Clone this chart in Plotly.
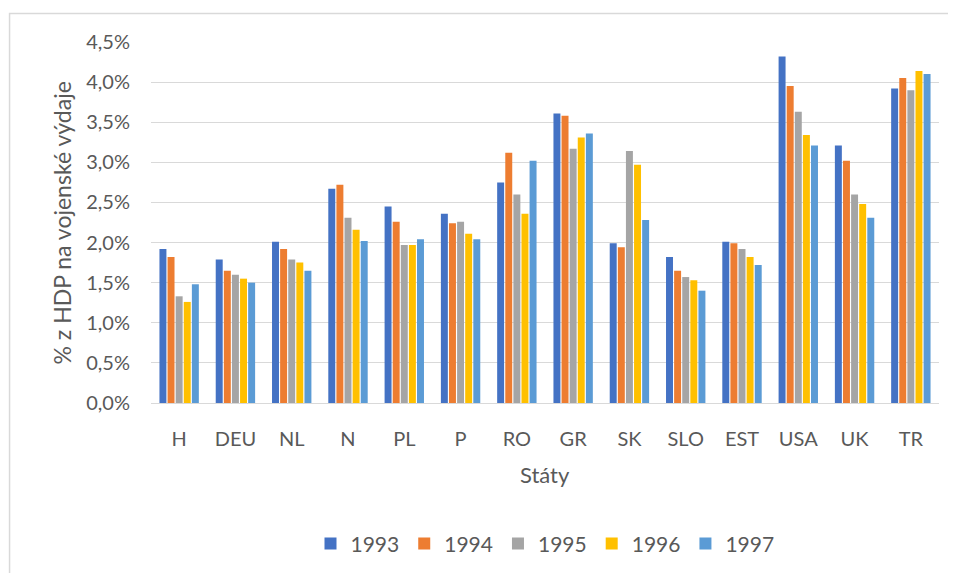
import plotly.graph_objects as go

# kategorie a hodnoty (% HDP na vojenské výdaje)
staty = ['H', 'DEU', 'NL', 'N', 'PL', 'P', 'RO', 'GR', 'SK', 'SLO', 'EST', 'USA', 'UK', 'TR']
roky = ['1993', '1994', '1995', '1996', '1997']

v1993 = [1.92, 1.79, 2.01, 2.67, 2.45, 2.36, 2.75, 3.61, 1.99, 1.82, 2.01, 4.32, 3.21, 3.92]
v1994 = [1.82, 1.65, 1.92, 2.72, 2.26, 2.24, 3.12, 3.58, 1.94, 1.65, 1.99, 3.95, 3.02, 4.05]
v1995 = [1.33, 1.60, 1.79, 2.31, 1.97, 2.26, 2.60, 3.17, 3.14, 1.57, 1.92, 3.63, 2.60, 3.90]
v1996 = [1.26, 1.55, 1.75, 2.16, 1.97, 2.11, 2.36, 3.31, 2.97, 1.53, 1.82, 3.34, 2.48, 4.14]
v1997 = [1.48, 1.50, 1.65, 2.02, 2.04, 2.04, 3.02, 3.36, 2.28, 1.40, 1.72, 3.21, 2.31, 4.10]

serie = [v1993, v1994, v1995, v1996, v1997]
barvy = ['#4472C4', '#ED7D31', '#A5A5A5', '#FFC000', '#5B9BD5']

font = 'Lato, Open Sans, sans-serif'
seda = '#595959'

fig = go.Figure()
for rok, hodnoty, barva in zip(roky, serie, barvy):
    fig.add_trace(go.Bar(x=staty, y=hodnoty, name=rok, marker_color=barva, marker_line_width=0))

# ramecek okolo grafu (jen horni a leva hrana jsou videt)
fig.add_shape(type='rect', xref='paper', yref='paper',
              x0=-0.1795, x1=1.03, y0=-0.50, y1=1.0788,
              line=dict(color='#D9D9D9', width=1.5), layer='below')

# popisky os
fig.add_annotation(text='% z HDP na vojenské výdaje', xref='paper', yref='paper',
                   x=-0.113, y=0.5, textangle=-90, showarrow=False,
                   xanchor='center', yanchor='middle', font=dict(size=23, color=seda))
fig.add_annotation(text='Státy', xref='paper', yref='paper',
                   x=0.5, y=-0.197, showarrow=False,
                   xanchor='center', yanchor='middle', font=dict(size=22, color=seda))

# stranka ma okraj 8 px, proto je figura o 16 px mensi
fig.update_layout(
    width=940, height=565,
    margin=dict(l=143, r=9, t=34, b=163),
    paper_bgcolor='white', plot_bgcolor='white',
    separators=', ',
    barmode='group', bargap=0.28, bargroupgap=0.14,
    font=dict(family=font, color=seda, size=20),
    showlegend=True,
    legend=dict(orientation='h', x=0.5, xanchor='center', y=-0.39, yanchor='middle',
                font=dict(size=21, color=seda), traceorder='normal',
                itemwidth=30),
    xaxis=dict(automargin=False, showgrid=False, zeroline=False, showline=False,
               ticks='', ticklabelstandoff=22, tickfont=dict(size=20, color=seda)),
    yaxis=dict(automargin=False, range=[0, 4.5], dtick=0.5, tickformat='.1f', ticksuffix='%',
               showgrid=True, gridcolor='#D9D9D9', gridwidth=1.3,
               zeroline=True, zerolinecolor='#D9D9D9', zerolinewidth=1.3,
               showline=False, ticks='', ticklabelstandoff=20,
               tickfont=dict(size=20, color=seda)),
)

fig.write_html('out.html')
